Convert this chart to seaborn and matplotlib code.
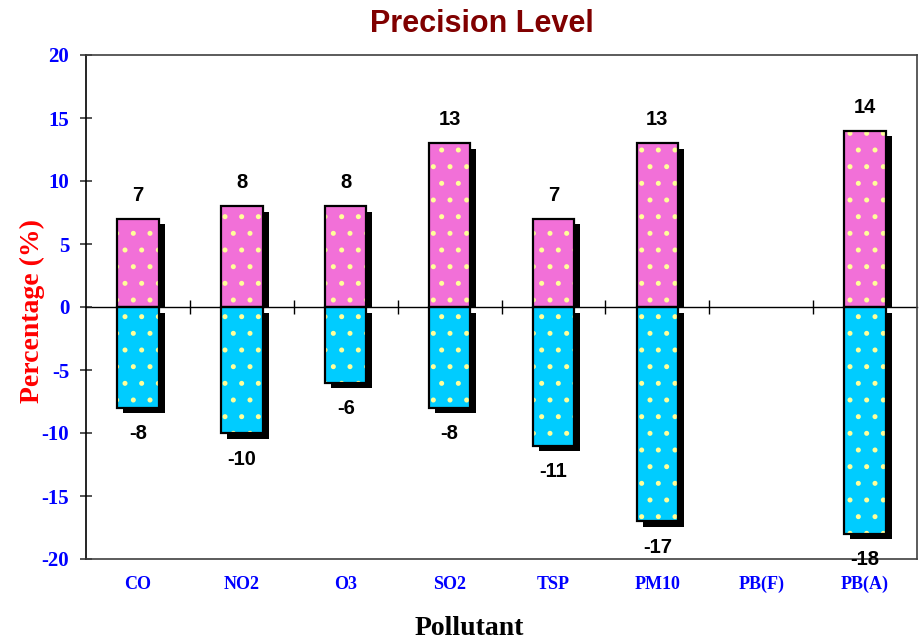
import numpy as np
import pandas as pd
import seaborn as sns
import matplotlib
matplotlib.use("Agg")
import matplotlib.pyplot as plt
from matplotlib import transforms
from matplotlib.patches import Rectangle

# Precision limits per pollutant (%), PB(F) has no result
pollutants = ["CO", "NO2", "O3", "SO2", "TSP", "PM10", "PB(F)", "PB(A)"]
upper_limit = [7, 8, 8, 13, 7, 13, None, 14]
lower_limit = [-8, -10, -6, -8, -11, -17, None, -18]
y_ticks = [-20, -15, -10, -5, 0, 5, 10, 15, 20]

sns.set_style("white")
plt.rcParams["hatch.linewidth"] = 1.2

df = pd.DataFrame({
    "pollutant": pollutants * 2,
    "bound": ["upper"] * len(pollutants) + ["lower"] * len(pollutants),
    "value": upper_limit + lower_limit,
}).dropna()

fig = plt.figure(figsize=(9.23, 6.42), dpi=100)
ax = fig.add_axes([86 / 923, 83 / 642, 831 / 923, 504 / 642])

sns.barplot(data=df, x="pollutant", y="value", hue="bound", order=pollutants,
            hue_order=["upper", "lower"], dodge=False, width=0.4,
            palette={"upper": "#F270D8", "lower": "#00CCFF"}, saturation=1,
            errorbar=None, legend=False, ax=ax)

bars = [p for p in ax.patches if np.isfinite(p.get_height()) and p.get_height() != 0]

# drop shadow offset to the lower right
shift = transforms.ScaledTranslation(0.06, -0.055, fig.dpi_scale_trans)
upper_half = Rectangle((0, 0.5), 1, 0.5, transform=ax.transAxes)
for p in bars:
    x, y = p.get_xy()
    w, h = p.get_width(), p.get_height()
    shadow = Rectangle((x, y), w, h, facecolor="black", edgecolor="none",
                       transform=ax.transData + shift, zorder=0.5)
    ax.add_patch(shadow)
    if h > 0:
        shadow.set_clip_path(upper_half)
    # light dotted fill pattern
    p.set_hatch(".")
    p.set_edgecolor("#FFFF99")
    p.set_linewidth(0)
    p.set_zorder(2)
    ax.add_patch(Rectangle((x, y), w, h, fill=False, edgecolor="black",
                           linewidth=1.6, zorder=3))
    # value labels at the outer end of each bar
    ax.annotate(f"{h:g}", (x + w / 2, y + h),
                xytext=(0, 10 if h > 0 else -12), textcoords="offset points",
                ha="center", va="bottom" if h > 0 else "top",
                fontsize=14.5, fontweight="bold", family="Liberation Sans",
                color="black", zorder=4, annotation_clip=False)

ax.set_ylim(-20, 20)
ax.set_yticks(y_ticks)
ax.set_yticklabels([str(v) for v in y_ticks])
ax.tick_params(axis="y", direction="inout", length=9, width=1.1, pad=7.5,
               left=True, labelsize=15, labelcolor="#0000FF")
ax.tick_params(axis="x", length=0, pad=12, labelsize=13, labelcolor="#0000FF")
for lab in ax.get_xticklabels() + ax.get_yticklabels():
    lab.set_family("Liberation Serif")
    lab.set_fontweight("bold")

for side in ["top", "right", "bottom"]:
    ax.spines[side].set_color("#404040")
    ax.spines[side].set_linewidth(1.2)
ax.spines["left"].set_color("black")
ax.spines["left"].set_linewidth(1.2)

# zero axis with separators between pollutant groups
zero_axis = ax.secondary_xaxis(0, transform=ax.transData)
zero_axis.set_xticks(np.arange(len(pollutants) - 1) + 0.5)
zero_axis.set_xticklabels([])
zero_axis.tick_params(direction="inout", length=10, width=1.0, color="black")
for s in zero_axis.spines.values():
    s.set_color("black")
    s.set_linewidth(1.0)

ax.set_xlabel("Pollutant", fontsize=20, fontweight="bold", family="Liberation Serif",
              color="black", va="center")
ax.xaxis.set_label_coords(0.461, -0.137)
ax.set_ylabel("Percentage (%)", fontsize=20, fontweight="bold",
              family="Liberation Serif", color="#FF0000", va="center")
ax.yaxis.set_label_coords(-0.064, 0.493)

fig.text(482 / 923, 1 - 24 / 642, "Precision Level", ha="center", va="center",
         fontsize=22, fontweight="bold", family="Liberation Sans", color="#800000")

fig.savefig("out.png", dpi=100)
